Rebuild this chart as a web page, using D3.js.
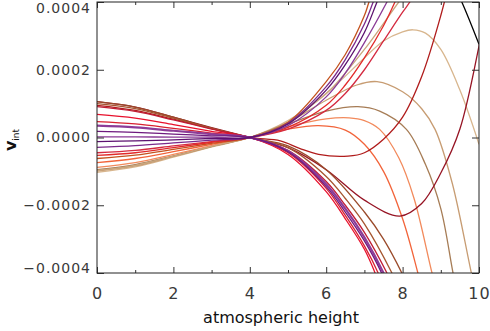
<!DOCTYPE html>
<html>
<head>
<meta charset="utf-8">
<script src="https://cdn.jsdelivr.net/npm/d3@7"></script>
<style>
  body { margin: 0; background: #fff; }
  .tick text { font-family: "DejaVu Sans", sans-serif; fill: #3a3a3a; }
</style>
</head>
<body>
<svg id="chart" width="490" height="331"></svg>
<script>
// Values are given in units of 1e-4 (v_int), heights in model units.
const UNIT = 1e-4;

const xTicks = [0, 2, 4, 6, 8, 10];
const xMinorTicks = [1, 3, 5, 7, 9];
const yTicks = [-0.0004, -0.0002, 0, 0.0002, 0.0004];
const yTickLabels = ["\u22120.0004", "\u22120.0002", "0.0000", "0.0002", "0.0004"];

// Profiles that turn over after the crossing point
const tanLight   = [[0,-1.03],[1,-0.87],[2,-0.58],[3,-0.28],[4,0],[5,0.5],[6,1.3],[7,2.35],[7.5,2.85],[8,3.12],[8.27,3.18],[8.6,3.08],[9,2.6],[9.5,1.4],[10,-0.2]];
const tanMid     = [[0,-0.99],[1,-0.84],[2,-0.56],[3,-0.27],[4,0],[5,0.45],[6,1.1],[6.8,1.55],[7.33,1.65],[8,1.35],[8.5,0.85],[8.85,0.24],[9.3,-1.35],[9.8,-4.0],[10,-5]];
const tanBrown   = [[0,-0.95],[1,-0.8],[2,-0.54],[3,-0.26],[4,0],[5,0.4],[6,0.78],[6.83,0.91],[7.4,0.78],[8.1,0.24],[8.6,-0.8],[9,-2.1],[9.32,-4.0],[9.5,-5]];
const orangeLight= [[0,-0.88],[1,-0.74],[2,-0.5],[3,-0.24],[4,0],[5,0.32],[6,0.55],[6.6,0.58],[7,0.5],[7.4,0.24],[7.9,-0.6],[8.3,-1.8],[8.77,-4.0],[9,-5]];
const orange     = [[0,-0.74],[1,-0.62],[2,-0.42],[3,-0.2],[4,0],[5,0.25],[5.8,0.35],[6.5,0.22],[7,-0.2],[7.5,-1.0],[8,-2.4],[8.4,-4.0],[8.6,-4.9]];

// Profiles rising steeply above the crossing
const riseRust   = [[0,-0.62],[1,-0.52],[2,-0.35],[3,-0.17],[4,0],[5,0.45],[6,1.65],[6.5,2.45],[7,3.6],[7.12,4.0],[7.4,4.9]];
const riseTan    = [[0,-0.97],[1,-0.82],[2,-0.55],[3,-0.26],[4,0],[4.8,0.3],[5.5,0.85],[6.1,1.4],[7,2.6],[7.9,4.0],[8.3,4.6]];
const riseRed1   = [[0,-0.53],[1,-0.45],[2,-0.3],[3,-0.14],[4,0],[5,0.3],[6,0.95],[6.5,1.55],[7,2.35],[7.5,3.3],[7.8,4.0],[8.1,4.8]];
const riseRed2   = [[0,-0.45],[1,-0.38],[2,-0.25],[3,-0.12],[4,0],[5,0.25],[6,0.8],[6.5,1.3],[7,2.0],[7.5,2.85],[8,3.7],[8.19,4.0],[8.5,4.6]];
const risePurple1= [[0,-0.29],[1,-0.24],[2,-0.16],[3,-0.08],[4,0],[5,0.42],[6,1.5],[6.5,2.3],[7,3.35],[7.23,4.0],[7.5,4.8]];
const risePurple2= [[0,-0.12],[1,-0.1],[2,-0.07],[3,-0.03],[4,0],[5,0.4],[6,1.4],[6.5,2.15],[7,3.1],[7.33,4.0],[7.6,4.75]];
const risePurple3= [[0,0.02],[1,0.02],[2,0.01],[3,0.01],[4,0],[5,0.35],[6,1.2],[6.5,1.9],[7,2.8],[7.59,4.0],[7.9,4.7]];

// Profiles with a minimum, turning back up
const minRed1    = [[0,0.95],[1,0.8],[2,0.54],[3,0.26],[4,0],[4.8,-0.1],[5.3,-0.32],[5.8,-0.5],[6.57,-0.55],[7,-0.45],[7.5,-0.05],[8,0.6],[8.5,1.8],[9,3.6],[9.2,4.5]];
const minRed2    = [[0,1.06],[1,0.9],[2,0.6],[3,0.29],[4,0],[5,-0.3],[6,-0.95],[7,-1.85],[7.93,-2.32],[8.5,-1.95],[9,-1.05],[9.5,0.25],[10,2.7],[10.2,3.9]];

// Profiles falling steeply below the crossing
const fallBrown2 = [[0,1.06],[1,0.9],[2,0.6],[3,0.28],[4,0],[5,-0.25],[6,-0.95],[7,-2.2],[7.5,-3.0],[7.98,-4.0],[8.3,-4.8]];
const fallBrown1 = [[0,1.0],[1,0.85],[2,0.57],[3,0.27],[4,0],[5,-0.3],[6,-1.15],[6.5,-1.8],[7,-2.55],[7.72,-4.0],[8,-4.7]];
const fallRed3   = [[0,0.91],[1,0.77],[2,0.52],[3,0.25],[4,0],[5,-0.38],[6,-1.3],[6.5,-2.0],[7,-2.8],[7.59,-4.0],[8,-5]];
const fallPurple2= [[0,0.35],[1,0.3],[2,0.2],[3,0.1],[4,0],[5,-0.4],[6,-1.38],[6.5,-2.1],[7,-2.95],[7.5,-4.0],[7.8,-4.8]];
const fallPurple1= [[0,0.18],[1,0.15],[2,0.1],[3,0.05],[4,0],[5,-0.42],[6,-1.45],[6.5,-2.2],[7,-3.05],[7.45,-4.0],[7.8,-5]];
const fallRed2   = [[0,0.47],[1,0.4],[2,0.27],[3,0.13],[4,0],[5,-0.45],[6,-1.5],[6.5,-2.3],[7,-3.2],[7.36,-4.0],[7.7,-5]];
const fallRed1   = [[0,0.68],[1,0.57],[2,0.38],[3,0.18],[4,0],[5,-0.5],[6,-1.6],[6.5,-2.4],[7,-3.3],[7.28,-4.0],[7.6,-5]];

// Upper-right profile coming back down through the frame
const blackTop   = [[8.5,6.0],[9,5.3],[9.55,4.0],[10,2.75]];

const seriesData   = [tanLight, tanMid, tanBrown, orangeLight, orange, riseTan, riseRust, minRed1, minRed2,
                      fallBrown2, fallBrown1, riseRed2, riseRed1, fallRed3, fallRed2, fallRed1,
                      fallPurple2, fallPurple1, risePurple3, risePurple1, risePurple2, blackTop];
const seriesColors = ["#d8b68e", "#c79c72", "#a67c55", "#f28a5c", "#f2643a", "#c9a67e", "#c4521e", "#b01c1c", "#961424",
                      "#9a4a2a", "#a5552f", "#d42a40", "#e22a2a", "#c01c34", "#d82030", "#e8102c",
                      "#8c3c98", "#6e1a7e", "#8a3a96", "#7b2a8c", "#5c1270", "#000000"];
const seriesWidths = [1.3, 1.3, 1.3, 1.3, 1.3, 1.3, 1.3, 1.3, 1.3,
                      1.3, 1.3, 1.3, 1.3, 1.3, 1.3, 1.3,
                      2.2, 1.3, 1.3, 1.3, 1.3, 1.3];

const plot = { left: 97, right: 479, top: 2, bottom: 273 };

const svg = d3.select("#chart");
const x = d3.scaleLinear().domain([0, 10]).range([plot.left, plot.right]);
const y = d3.scaleLinear().domain([-0.0004, 0.0004]).range([plot.bottom, plot.top]);

svg.append("clipPath").attr("id", "plotClip")
  .append("rect")
  .attr("x", plot.left).attr("y", plot.top)
  .attr("width", plot.right - plot.left).attr("height", plot.bottom - plot.top);

const line = d3.line()
  .x(d => x(d[0]))
  .y(d => y(d[1] * UNIT))
  .curve(d3.curveCatmullRom.alpha(0.5));

const curves = svg.append("g").attr("clip-path", "url(#plotClip)");
seriesData.forEach((pts, i) => {
  curves.append("path")
    .attr("d", line(pts))
    .attr("fill", "none")
    .attr("stroke", seriesColors[i])
    .attr("stroke-width", seriesWidths[i])
    .attr("stroke-linejoin", "round");
});

// Axes: ticks point inward on all four sides
function styleAxis(g) {
  g.select(".domain").remove();
  g.selectAll(".tick line").attr("stroke", "#333").attr("stroke-width", 1);
}

const bottom = svg.append("g").attr("transform", `translate(0,${plot.bottom})`)
  .call(d3.axisBottom(x).tickValues(xTicks).tickSizeInner(-6).tickSizeOuter(0)
        .tickPadding(15).tickFormat(d3.format("d")))
  .call(styleAxis);
bottom.selectAll(".tick text").attr("font-size", 16).attr("letter-spacing", 1);

svg.append("g").attr("transform", `translate(0,${plot.bottom})`)
  .call(d3.axisBottom(x).tickValues(xMinorTicks).tickSizeInner(-3).tickSizeOuter(0).tickFormat(""))
  .call(styleAxis);
svg.append("g").attr("transform", `translate(0,${plot.top})`)
  .call(d3.axisTop(x).tickValues(xTicks).tickSizeInner(-6).tickSizeOuter(0).tickFormat(""))
  .call(styleAxis);
svg.append("g").attr("transform", `translate(0,${plot.top})`)
  .call(d3.axisTop(x).tickValues(xMinorTicks).tickSizeInner(-3).tickSizeOuter(0).tickFormat(""))
  .call(styleAxis);

const left = svg.append("g").attr("transform", `translate(${plot.left},0)`)
  .call(d3.axisLeft(y).tickValues(yTicks).tickSizeInner(-7).tickSizeOuter(0)
        .tickPadding(6).tickFormat((d, i) => yTickLabels[i]))
  .call(styleAxis);
left.selectAll(".tick text").attr("font-size", 14).attr("letter-spacing", 1);
// keep the end labels inside the figure
left.selectAll(".tick text").filter(d => d === 0.0004).attr("y", 6);
left.selectAll(".tick text").filter(d => d === -0.0004).attr("y", -5);

svg.append("g").attr("transform", `translate(${plot.right},0)`)
  .call(d3.axisRight(y).tickValues(yTicks).tickSizeInner(-7).tickSizeOuter(0).tickFormat(""))
  .call(styleAxis);

// Frame
svg.append("rect")
  .attr("x", plot.left).attr("y", plot.top)
  .attr("width", plot.right - plot.left).attr("height", plot.bottom - plot.top)
  .attr("fill", "none").attr("stroke", "#222").attr("stroke-width", 1);

// Axis titles
svg.append("text")
  .attr("x", 281).attr("y", 323)
  .attr("text-anchor", "middle")
  .attr("font-family", "DejaVu Sans, sans-serif")
  .attr("font-size", 16)
  .attr("fill", "#111")
  .text("atmospheric height");

const yTitle = svg.append("text")
  .attr("transform", "translate(16,140) rotate(-90)")
  .attr("text-anchor", "middle")
  .attr("font-family", "DejaVu Sans, sans-serif")
  .attr("fill", "#111");
yTitle.append("tspan").attr("font-size", 16).attr("font-weight", "bold").text("v");
yTitle.append("tspan").attr("font-size", 9).attr("dy", 3).text("int");
</script>
</body>
</html>
